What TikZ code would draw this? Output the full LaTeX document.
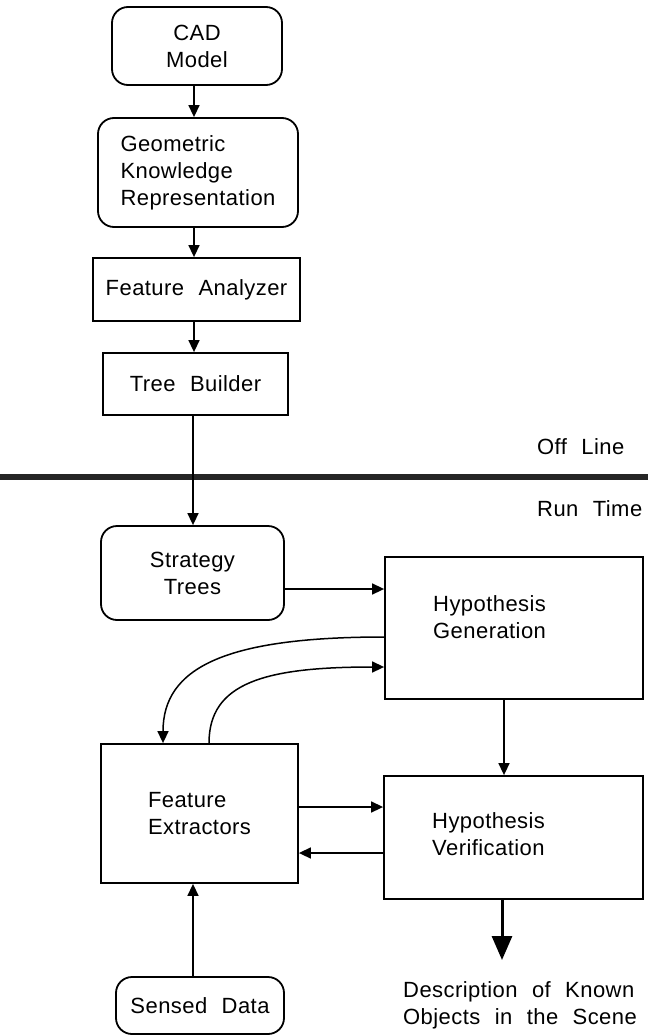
\documentclass[tikz,border=0pt]{standalone}
\usepackage{fontspec}
\setmainfont{Liberation Sans}[LetterSpace=2,WordSpace=2.2]
\usetikzlibrary{arrows.meta,calc}
\begin{document}
\begin{tikzpicture}[x=1pt,y=-1pt,
  every node/.style={font=\fontsize{22}{27}\selectfont, inner sep=0pt},
  box/.style={draw, line width=1.8pt},
  rbox/.style={box, rounded corners=16pt},
  arr/.style={line width=1.5pt, -{Triangle[length=12pt,width=11pt]}},
  bigarr/.style={line width=3pt, -{Triangle[length=24pt,width=20pt]}},
  lbl/.style={align=left}]
\useasboundingbox (0,0) rectangle (648,1036);

% off-line stage
\node[rbox, minimum width=170pt, minimum height=78pt, align=center] (cad) at (197,46) {CAD\\Model};
\node[rbox, minimum width=200pt, minimum height=109pt, align=left] (gkr) at (198,172.5) {Geometric\\Knowledge\\Representation};
\node[box, minimum width=207pt, minimum height=63pt] (fa) at (196.5,289.5) {Feature Analyzer};
\node[box, minimum width=185pt, minimum height=62pt] (tb) at (195.5,384) {Tree Builder};

% separator between the two stages
\coordinate (barL) at (0,477);
\coordinate (barR) at (648,477);
\draw[line width=6.5pt, black!85] (barL) -- (barR);
\node[anchor=west] (off) at (537,447) {Off Line};
\node[anchor=west] (run) at (537,509) {Run Time};

% run-time stage
\node[rbox, minimum width=183pt, minimum height=94pt, align=center] (st) at (192.5,573) {Strategy\\Trees};
\node[box, minimum width=258pt, minimum height=142pt] (hg) at (514,628) {};
\node[lbl, anchor=west] (hgt) at (433,617) {Hypothesis\\Generation};
\node[box, minimum width=197pt, minimum height=139pt, align=left] (fe) at (199.5,813.5) {Feature\\Extractors};
\node[box, minimum width=259pt, minimum height=123pt] (hv) at (513.5,837.5) {};
\node[lbl, anchor=west] (hvt) at (432,834) {Hypothesis\\Verification};
\node[rbox, minimum width=168pt, minimum height=57pt] (sd) at (200,1005.5) {Sensed Data};
\node[lbl, anchor=west] (desc) at (403,1005) {Description of Known\\Objects in the Scene};

% connectors
\coordinate (col) at (194,0);
\coordinate (col2) at (193,0);
\draw[arr] (cad.south -| col) -- (gkr.north -| col);
\draw[arr] (gkr.south -| col) -- (fa.north -| col);
\draw[arr] (fa.south -| col) -- (tb.north -| col);
\draw[arr] (tb.south -| col2) -- (st.north -| col2);
\draw[arr] ([yshift=-16pt]st.east) -- ([yshift=-16pt]st.east -| hg.west);
\draw[arr] ([yshift=-9pt]hg.west) .. controls +(-160,0) and +(0,-75) .. ([xshift=-36.5pt]fe.north);
\draw[arr] ([xshift=9.5pt]fe.north) .. controls +(0,-60) and +(-120,0) .. ([yshift=-39pt]hg.west);
\draw[arr] ([xshift=-10pt]hg.south) -- ([xshift=-10pt]hg.south |- hv.north);
\draw[arr] ([yshift=6.5pt]fe.east) -- ([yshift=6.5pt]fe.east -| hv.west);
\draw[arr] ([yshift=-39.5pt]fe.east -| hv.west) -- ([yshift=-39.5pt]fe.east);
\draw[arr] ([xshift=-7pt]sd.north) -- ([xshift=-7pt]sd.north |- fe.south);
\coordinate (outtip) at (502,960);
\draw[bigarr] (hv.south -| outtip) -- (outtip);
\end{tikzpicture}
\end{document}
